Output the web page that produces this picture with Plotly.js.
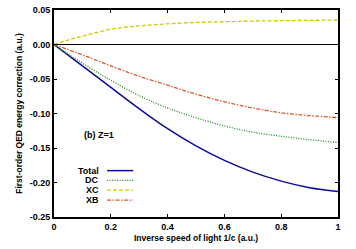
<!DOCTYPE html>
<html>
<head>
<meta charset="utf-8">
<script src="https://cdn.plot.ly/plotly-3.0.1.min.js"></script>
<style>html,body{margin:0;padding:0;background:#fff;}#chart{width:356px;height:249px;}</style>
</head>
<body>
<div id="chart"></div>
<script>
var invC   = [0, 0.05, 0.1, 0.2, 0.3, 0.4, 0.5, 0.6, 0.7, 0.8, 0.9, 1.0];
var total  = [0, -0.0155, -0.031, -0.062, -0.093, -0.122, -0.147, -0.168, -0.185, -0.198, -0.2075, -0.213];
var dc     = [0, -0.014, -0.027, -0.052, -0.074, -0.092, -0.106, -0.118, -0.127, -0.133, -0.138, -0.142];
var xc     = [0, 0.0065, 0.012, 0.022, 0.027, 0.030, 0.032, 0.033, 0.034, 0.0345, 0.035, 0.0355];
var xb     = [0, -0.0075, -0.015, -0.031, -0.046, -0.059, -0.072, -0.083, -0.092, -0.099, -0.103, -0.106];
var seriesNames = ['Total', 'DC', 'XC', 'XB'];
var xTickVals = [0, 0.2, 0.4, 0.6, 0.8, 1];
var xTickText = ['0', '0.2', '0.4', '0.6', '0.8', '1'];
var yTickVals = [0.05, 0, -0.05, -0.10, -0.15, -0.20, -0.25];
var yTickText = ['0.05', '0.00', '-0.05', '-0.10', '-0.15', '-0.20', '-0.25'];
var panelLabel = '(b) Z=1';

var styles = [
  {color: '#0a0a9a', dash: 'solid', width: 1.5},
  {color: '#1f8a1f', dash: '1px,1.5px', width: 1.3},
  {color: '#d6c800', dash: '4px,2px', width: 1.3},
  {color: '#d9592a', dash: '4px,1.5px,1.5px,1.5px', width: 1.3}
];
var ys = [total, dc, xc, xb];
var traces = ys.map(function(y, i){
  return {x: invC, y: y, type: 'scatter', mode: 'lines', name: seriesNames[i],
    line: {color: styles[i].color, dash: styles[i].dash, width: styles[i].width, shape: 'spline', smoothing: 1.0},
    showlegend: false, hoverinfo: 'skip'};
});

var F = 'Liberation Sans, Arial, sans-serif';
var annotations = [];
var shapes = [];
var legY = [0.224, 0.177, 0.130, 0.082];
seriesNames.forEach(function(n, i){
  annotations.push({xref: 'paper', yref: 'paper', x: 0.164, y: legY[i], xanchor: 'right', yanchor: 'middle',
    text: '<b>' + n + '</b>', showarrow: false, font: {family: F, size: 9, color: '#000'}});
  shapes.push({type: 'line', xref: 'paper', yref: 'paper', x0: 0.187, x1: 0.279, y0: legY[i], y1: legY[i],
    line: {color: styles[i].color, dash: styles[i].dash, width: styles[i].width}});
});
annotations.push({xref: 'paper', yref: 'paper', x: 0.098, y: 0.396, xanchor: 'left', yanchor: 'middle',
  text: '<b>' + panelLabel + '</b>', showarrow: false, font: {family: F, size: 9, color: '#000'}});

var layout = {
  width: 356, height: 249,
  margin: {l: 54, r: 18, t: 10, b: 32, pad: 0},
  paper_bgcolor: '#fff', plot_bgcolor: '#fff',
  font: {family: F, size: 9, color: '#000'},
  xaxis: {
    range: [0, 1], tickvals: xTickVals, ticktext: xTickText,
    ticks: 'inside', ticklen: 3, tickwidth: 1, tickcolor: '#000',
    showline: true, linewidth: 2, linecolor: '#000', mirror: 'ticks',
    showgrid: false, zeroline: false,
    tickfont: {family: F, size: 9, color: '#000', weight: 'bold'},
    title: {text: '<b>Inverse speed of light 1/c (a.u.)</b>', font: {family: F, size: 8.5, color: '#000'}, standoff: 4}
  },
  yaxis: {
    range: [-0.25, 0.05], tickvals: yTickVals, ticktext: yTickText,
    ticks: 'inside', ticklen: 3, tickwidth: 1, tickcolor: '#000',
    showline: true, linewidth: 2, linecolor: '#000', mirror: 'ticks',
    showgrid: false, zeroline: true, zerolinecolor: '#000', zerolinewidth: 1.5,
    tickfont: {family: F, size: 9, color: '#000', weight: 'bold'},
    title: {text: '<b>First-order QED energy correction (a.u.)</b>', font: {family: F, size: 8.5, color: '#000'}, standoff: 6}
  },
  annotations: annotations,
  shapes: shapes,
  showlegend: false
};
Plotly.newPlot('chart', traces, layout, {staticPlot: true, displayModeBar: false});
</script>
</body>
</html>
